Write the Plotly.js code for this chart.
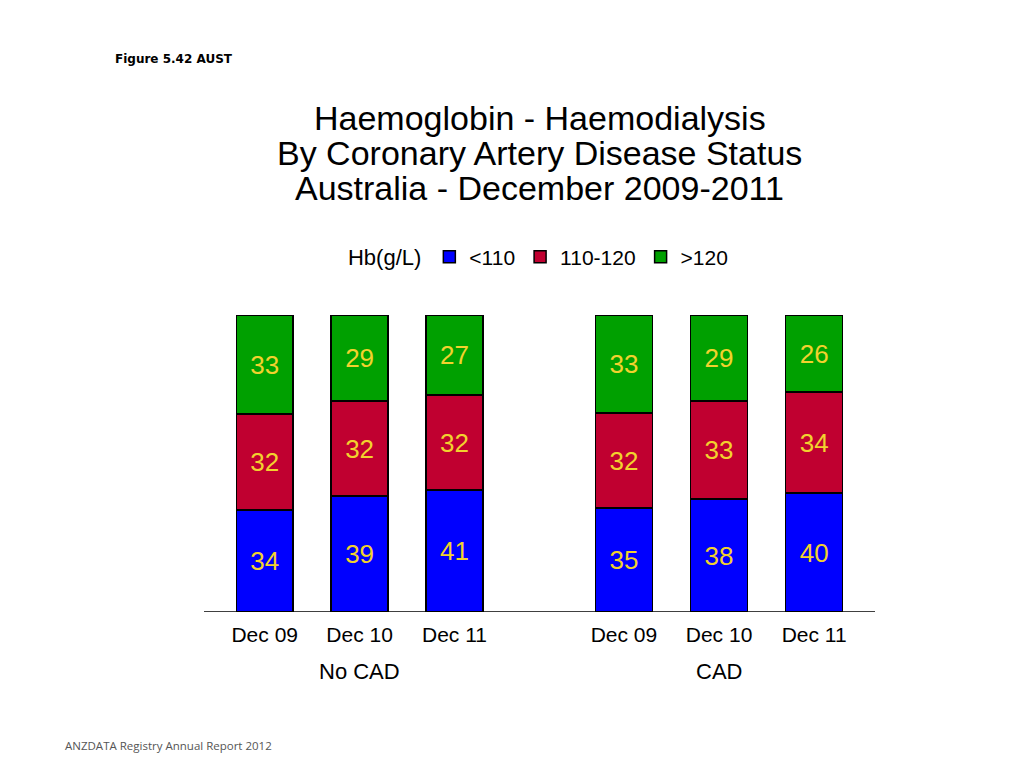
<!DOCTYPE html>
<html>
<head>
<meta charset="utf-8">
<script src="https://cdn.plot.ly/plotly-3.0.1.min.js"></script>
<style>
  html, body { margin: 0; padding: 0; background: #fff; }
  #graph { width: 1024px; height: 768px; }
</style>
</head>
<body>
<div id="graph"></div>
<script>
// data (percent of patients)
var years = ['Dec 09', 'Dec 10', 'Dec 11'];
var groups = ['No CAD', 'CAD'];
var bandNames = ['<110', '110-120', '>120'];
var bandColors = ['#0000FF', '#C00030', '#00A000'];

var noCadBelow110 = [34, 39, 41];
var noCad110to120 = [32, 32, 32];
var noCadAbove120 = [33, 29, 27];

var cadBelow110 = [35, 38, 40];
var cad110to120 = [32, 33, 34];
var cadAbove120 = [33, 29, 26];

var seriesByGroup = [
  [noCadBelow110, noCad110to120, noCadAbove120],
  [cadBelow110, cad110to120, cadAbove120]
];

var titleLines = ['Haemoglobin - Haemodialysis', 'By Coronary Artery Disease Status', 'Australia - December 2009-2011'];

var font = 'Liberation Sans, Arial, sans-serif';

//build stacked bars, one subplot per group
var data = [];
seriesByGroup.forEach(function (series, g) {
  series.forEach(function (vals, i) {
    data.push({
      type: 'bar',
      x: years,
      y: vals,
      name: bandNames[i],
      legendgroup: bandNames[i],
      showlegend: g == 0,
      xaxis: g == 0 ? 'x' : 'x2',
      yaxis: 'y',
      marker: { color: bandColors[i], line: { color: '#000', width: 1.5 } },
      text: vals.map(String),
      textposition: 'inside',
      insidetextanchor: 'middle',
      textangle: 0,
      textfont: { family: font, size: 26, color: '#F2D22E' },
      hoverinfo: 'skip'
    });
  });
});

var axisCommon = {
  type: 'category',
  showgrid: false,
  zeroline: false,
  showline: false,
  ticks: '',
  ticklabelstandoff: 8,
  tickfont: { family: font, size: 21, color: '#000' },
  fixedrange: true
};

//title lines placed one by one (tight line spacing like the slide)
var titleY = [1.663, 1.545, 1.428];
var annotations = titleLines.map(function (t, k) {
  return { text: t, xref: 'paper', yref: 'paper', x: 0.5, y: titleY[k], yanchor: 'middle',
    showarrow: false, font: { family: font, size: 34 } };
});

annotations.push(
  { text: 'Figure 5.42 AUST', xref: 'paper', yref: 'paper', x: -0.1356, xanchor: 'left',
    y: 1.862, yanchor: 'middle',
    showarrow: false, font: { family: 'DejaVu Sans, sans-serif', size: 12, weight: 'bold' } },
  { text: groups[0], xref: 'x', yref: 'paper', x: years[1], y: -0.202, yanchor: 'middle',
    showarrow: false, font: { family: font, size: 22 } },
  { text: groups[1], xref: 'x2', yref: 'paper', x: years[1], y: -0.202, yanchor: 'middle',
    showarrow: false, font: { family: font, size: 22 } },
  { text: 'ANZDATA Registry Annual Report 2012', xref: 'paper', yref: 'paper', x: -0.21, xanchor: 'left',
    y: -0.451, yanchor: 'middle',
    showarrow: false, font: { family: 'Open Sans, sans-serif', size: 11.5, color: '#555' } }
);

var layout = {
  width: 1024,
  height: 768,
  paper_bgcolor: '#fff',
  plot_bgcolor: '#fff',
  margin: { l: 204, r: 149, t: 315, b: 156 },
  barmode: 'stack',
  barnorm: 'percent',
  bargap: 0.4,
  font: { family: font, color: '#000' },
  xaxis: Object.assign({}, axisCommon, { domain: [0, 0.444], range: [-0.64, 2.5] }),
  xaxis2: Object.assign({}, axisCommon, { domain: [0.555, 1], range: [-0.5, 2.64], anchor: 'y' }),
  yaxis: { range: [0, 100], visible: false, fixedrange: true },
  legend: {
    orientation: 'h',
    x: 0.2116,
    xanchor: 'left',
    y: 1.195,
    yanchor: 'middle',
    traceorder: 'normal',
    font: { family: font, size: 21, color: '#000' },
    title: { text: 'Hb(g/L)', side: 'left', font: { family: font, size: 22 } },
    itemclick: false,
    itemdoubleclick: false
  },
  shapes: [
    { type: 'line', xref: 'paper', yref: 'y', x0: 0, x1: 1, y0: 0, y1: 0,
      line: { color: '#000', width: 1.5 } }
  ],
  annotations: annotations
};

var config = { staticPlot: true };
Plotly.newPlot('graph', data, layout, config);
</script>
</body>
</html>
